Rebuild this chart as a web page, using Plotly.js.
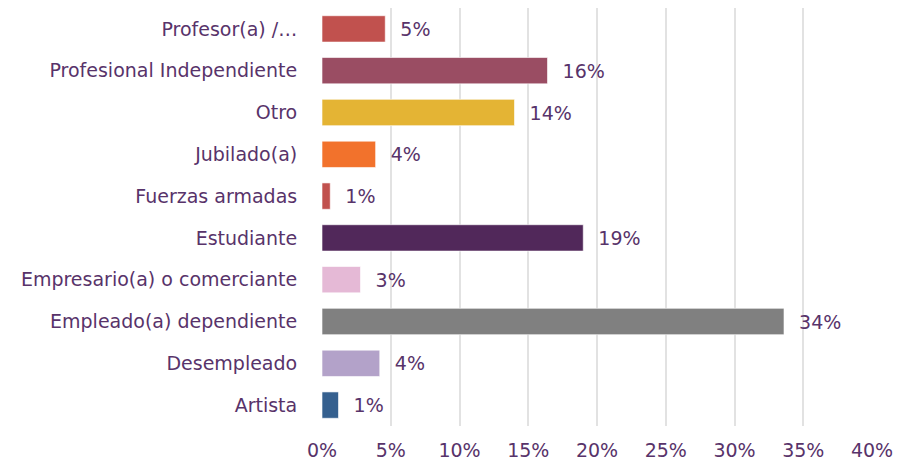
<!DOCTYPE html>
<html>
<head>
<meta charset="utf-8">
<script src="https://cdn.plot.ly/plotly-3.0.1.min.js"></script>
<style>html,body{margin:0;padding:0;background:#fff;}#chart{width:912px;height:466px;}</style>
</head>
<body>
<div id="chart"></div>
<script>
const categories = [
  "Profesor(a) /…",
  "Profesional Independiente",
  "Otro",
  "Jubilado(a)",
  "Fuerzas armadas",
  "Estudiante",
  "Empresario(a) o comerciante",
  "Empleado(a) dependiente",
  "Desempleado",
  "Artista"
];
const values = [4.6, 16.4, 14.0, 3.9, 0.6, 19.0, 2.8, 33.6, 4.2, 1.2];
const labels = ["5%", "16%", "14%", "4%", "1%", "19%", "3%", "34%", "4%", "1%"];
const colors = ["#c1514e", "#9a4d63", "#e4b434", "#f2722c", "#c1514e",
                "#51285a", "#e5b9d6", "#808080", "#b3a2c9", "#35608f"];
const xTicks = [0, 5, 10, 15, 20, 25, 30, 35, 40];
const xTickText = ["0%", "5%", "10%", "15%", "20%", "25%", "30%", "35%", "40%"];

const textColor = "#58336a";
const font = "DejaVu Sans, Open Sans, sans-serif";

const trace = {
  type: "bar",
  orientation: "h",
  y: categories,
  x: values,
  text: labels.map(t => "\u00a0\u00a0" + t),
  textposition: "outside",
  cliponaxis: false,
  textfont: {family: font, size: 19, color: textColor},
  marker: {color: colors, line: {color: "rgba(255,255,255,0.6)", width: 1}},
  hoverinfo: "skip"
};

const layout = {
  width: 912, height: 466,
  margin: {l: 322, r: 40, t: 8, b: 40},
  paper_bgcolor: "#ffffff",
  plot_bgcolor: "rgba(0,0,0,0)",
  showlegend: false,
  bargap: 0.37,
  font: {family: font, color: textColor, size: 19},
  xaxis: {
    range: [0, 40],
    tickvals: xTicks,
    ticktext: xTickText,
    showgrid: true,
    gridcolor: "#e2e2e2",
    gridwidth: 2,
    zeroline: false,
    showline: false,
    ticks: "outside",
    ticklen: 7,
    tickcolor: "rgba(0,0,0,0)",
    tickfont: {family: font, size: 19, color: textColor},
    fixedrange: true
  },
  yaxis: {
    type: "category",
    autorange: "reversed",
    showgrid: false,
    zeroline: false,
    showline: false,
    ticks: "outside",
    ticklen: 20,
    tickcolor: "rgba(0,0,0,0)",
    tickfont: {family: font, size: 19, color: textColor},
    fixedrange: true
  }
};

Plotly.newPlot("chart", [trace], layout, {displayModeBar: false, staticPlot: true});
</script>
</body>
</html>
